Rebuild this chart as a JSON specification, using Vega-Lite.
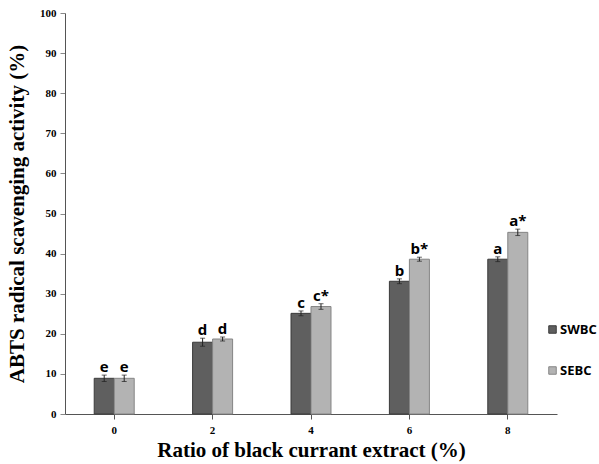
{
  "$schema": "https://vega.github.io/schema/vega-lite/v6.json",
  "width": 492,
  "height": 401,
  "autosize": {"type": "none"},
  "padding": {"left": 65, "top": 13, "right": 42, "bottom": 50},
  "background": "white",
  "config": {"view": {"stroke": null}},
  "data": {
    "values": [
      {"ratio": "0", "group": "SWBC", "value": 8.9, "lo": 8.1, "hi": 9.7, "label": "e"},
      {"ratio": "0", "group": "SEBC", "value": 8.9, "lo": 8.1, "hi": 9.7, "label": "e"},
      {"ratio": "2", "group": "SWBC", "value": 17.9, "lo": 16.9, "hi": 18.9, "label": "d"},
      {"ratio": "2", "group": "SEBC", "value": 18.7, "lo": 18.2, "hi": 19.2, "label": "d"},
      {"ratio": "4", "group": "SWBC", "value": 25.1, "lo": 24.5, "hi": 25.7, "label": "c"},
      {"ratio": "4", "group": "SEBC", "value": 26.8, "lo": 26.1, "hi": 27.5, "label": "c*"},
      {"ratio": "6", "group": "SWBC", "value": 33.1, "lo": 32.5, "hi": 33.7, "label": "b"},
      {"ratio": "6", "group": "SEBC", "value": 38.6, "lo": 38.1, "hi": 39.1, "label": "b*"},
      {"ratio": "8", "group": "SWBC", "value": 38.6, "lo": 38.0, "hi": 39.2, "label": "a"},
      {"ratio": "8", "group": "SEBC", "value": 45.3, "lo": 44.5, "hi": 46.1, "label": "a*"}
    ]
  },
  "encoding": {
    "x": {
      "field": "ratio",
      "type": "nominal",
      "sort": ["0", "2", "4", "6", "8"],
      "scale": {"paddingInner": 0.5935, "paddingOuter": 0.2968},
      "axis": {
        "title": "Ratio of black currant extract (%)",
        "titleFont": "Liberation Serif",
        "titleFontSize": 21,
        "titleFontWeight": "bold",
        "titleColor": "#000",
        "titlePadding": 4,
        "labelFont": "Liberation Serif",
        "labelFontSize": 11,
        "labelFontWeight": "bold",
        "labelColor": "#000",
        "labelAngle": 0,
        "labelPadding": 5,
        "domainColor": "#555",
        "tickColor": "#555",
        "tickSize": 5
      }
    },
    "xOffset": {"field": "group", "type": "nominal", "sort": ["SWBC", "SEBC"], "scale": {"paddingInner": 0, "paddingOuter": 0}}
  },
  "layer": [
    {
      "mark": {"type": "bar", "strokeWidth": 1},
      "encoding": {
        "y": {
          "field": "value",
          "type": "quantitative",
          "scale": {"domain": [0, 100], "nice": false},
          "axis": {
            "title": "ABTS radical scavenging activity (%)",
            "titleFont": "Liberation Serif",
            "titleFontSize": 21,
            "titleFontWeight": "bold",
            "titleColor": "#000",
            "titlePadding": 12,
            "values": [0, 10, 20, 30, 40, 50, 60, 70, 80, 90, 100],
            "labelFont": "Liberation Serif",
            "labelFontSize": 11,
            "labelFontWeight": "bold",
            "labelColor": "#000",
            "labelPadding": 4,
            "grid": false,
            "domainColor": "#555",
            "tickColor": "#888",
            "tickSize": 5
          }
        },
        "fill": {
          "field": "group",
          "type": "nominal",
          "sort": ["SWBC", "SEBC"],
          "scale": {"domain": ["SWBC", "SEBC"], "range": ["#5f5f5f", "#b3b3b3"]},
          "legend": {
            "title": null,
            "orient": "none",
            "legendX": 481,
            "legendY": 310,
            "padding": 0,
            "symbolType": "square",
            "symbolSize": 56,
            "symbolStrokeColor": "#444",
            "symbolStrokeWidth": 1,
            "labelFont": "Open Sans",
            "labelFontSize": 13,
            "labelFontWeight": "bold",
            "labelColor": "#000",
            "labelOffset": 1,
            "labelLimit": 60,
            "rowPadding": 27
          }
        },
        "stroke": {
          "field": "group",
          "type": "nominal",
          "scale": {"domain": ["SWBC", "SEBC"], "range": ["#3a3a3a", "#858585"]},
          "legend": null
        }
      }
    },
    {
      "mark": {"type": "rule", "color": "#222", "strokeWidth": 1},
      "encoding": {
        "y": {"field": "lo", "type": "quantitative"},
        "y2": {"field": "hi"}
      }
    },
    {
      "mark": {"type": "tick", "color": "#222", "thickness": 1, "size": 5},
      "encoding": {"y": {"field": "lo", "type": "quantitative"}}
    },
    {
      "mark": {"type": "tick", "color": "#222", "thickness": 1, "size": 5},
      "encoding": {"y": {"field": "hi", "type": "quantitative"}}
    },
    {
      "mark": {"type": "text", "font": "Open Sans", "fontSize": 15, "fontWeight": "bold", "color": "#000", "baseline": "alphabetic", "dy": -3},
      "encoding": {
        "y": {"field": "hi", "type": "quantitative"},
        "text": {"field": "label"}
      }
    }
  ]
}
